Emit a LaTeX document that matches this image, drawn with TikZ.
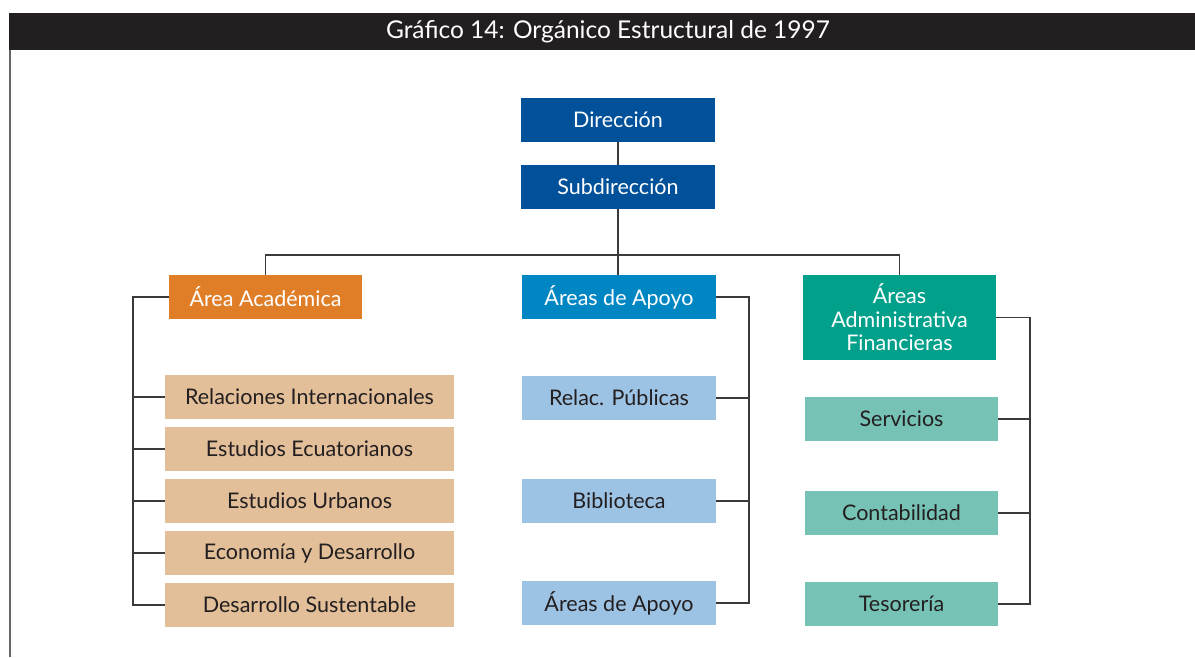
\documentclass[tikz,border=0pt]{standalone}
\usepackage{fontspec}
\setmainfont{Lato}
\definecolor{titlebg}{HTML}{231F20}
\definecolor{darkblue}{HTML}{00519A}
\definecolor{midblue}{HTML}{0086C3}
\definecolor{lightblue}{HTML}{9DC3E4}
\definecolor{orangeA}{HTML}{E07E28}
\definecolor{tan}{HTML}{E2BF99}
\definecolor{tealA}{HTML}{00A08A}
\definecolor{tealB}{HTML}{76C2B5}
\definecolor{txt}{HTML}{231F20}
\definecolor{linec}{HTML}{3A3A3A}
\begin{document}
\begin{tikzpicture}[x=1pt,y=-1pt,
  box/.style={rectangle, inner sep=0pt, font=\fontsize{21.5}{23.5}\selectfont, align=center},
  darkbox/.style={box, fill=darkblue, text=white, minimum width=194pt, minimum height=44pt},
  headbox/.style={box, text=white, minimum width=194pt, minimum height=44pt},
  lbox/.style={box, fill=tan, text=txt, minimum width=289pt, minimum height=44pt},
  mbox/.style={box, fill=lightblue, text=txt, minimum width=194pt, minimum height=44pt},
  rbox/.style={box, fill=tealB, text=txt, minimum width=193pt, minimum height=44pt},
  conn/.style={draw=linec, line width=1.4pt}
]
\useasboundingbox (0,0) rectangle (1195,657);
% frame
\fill[titlebg] (9,13) rectangle (1195,50);
\node[text=white, font=\fontsize{24.5}{28}\selectfont] (title) at (608,32) {Gráfico 14: Orgánico Estructural de 1997};
\draw[draw=gray!80!black, line width=1.6pt] (10,50) -- (10,657);
% top
\node[darkbox] (dir) at (618,120) {Dirección};
\node[darkbox] (sub) at (618,187) {Subdirección};
\node[headbox, fill=orangeA, minimum width=193pt] (aa) at (265.5,297) {Área Académica};
\node[headbox, fill=midblue] (ap) at (619,297) {Áreas de Apoyo};
\node[headbox, fill=tealA, minimum width=193pt, minimum height=85pt] (adm) at (899.5,317.5) {Áreas\\Administrativa\\Financieras};
% left column
\node[lbox] (ri) at (309.5,397) {Relaciones Internacionales};
\node[lbox] (ee) at (309.5,449) {Estudios Ecuatorianos};
\node[lbox] (eu) at (309.5,501) {Estudios Urbanos};
\node[lbox] (ed) at (309.5,553) {Economía y Desarrollo};
\node[lbox] (ds) at (309.5,605) {Desarrollo Sustentable};
% middle column
\node[mbox] (rp) at (619,398) {Relac. Públicas};
\node[mbox] (bi) at (619,501) {Biblioteca};
\node[mbox] (aa2) at (619,603) {Áreas de Apoyo};
% right column
\node[rbox] (se) at (901.5,419) {Servicios};
\node[rbox] (co) at (901.5,513) {Contabilidad};
\node[rbox] (te) at (901.5,604) {Tesorería};
% coordinates
\coordinate (bus) at (618,255);
\coordinate (xL) at (133,0);
\coordinate (xM) at (749,0);
\coordinate (xR) at (1030,0);
% tree connectors
\draw[conn] (dir) -- (sub);
\draw[conn] (sub.south) -- (sub.south |- ap.north);
\draw[conn] (aa.north) |- (bus) -| (adm.north);
% left bracket
\draw[conn] (aa.west) -| (xL |- ds.west) -- (ds.west);
\foreach \n in {ri,ee,eu,ed} \draw[conn] (\n.west) -- (xL |- \n.west);
% middle bracket
\draw[conn] (ap.east) -| (xM |- aa2.east) -- (aa2.east);
\foreach \n in {rp,bi} \draw[conn] (\n.east) -- (xM |- \n.east);
% right bracket
\draw[conn] (adm.east) -| (xR |- te.east) -- (te.east);
\foreach \n in {se,co} \draw[conn] (\n.east) -- (xR |- \n.east);
\end{tikzpicture}
\end{document}
